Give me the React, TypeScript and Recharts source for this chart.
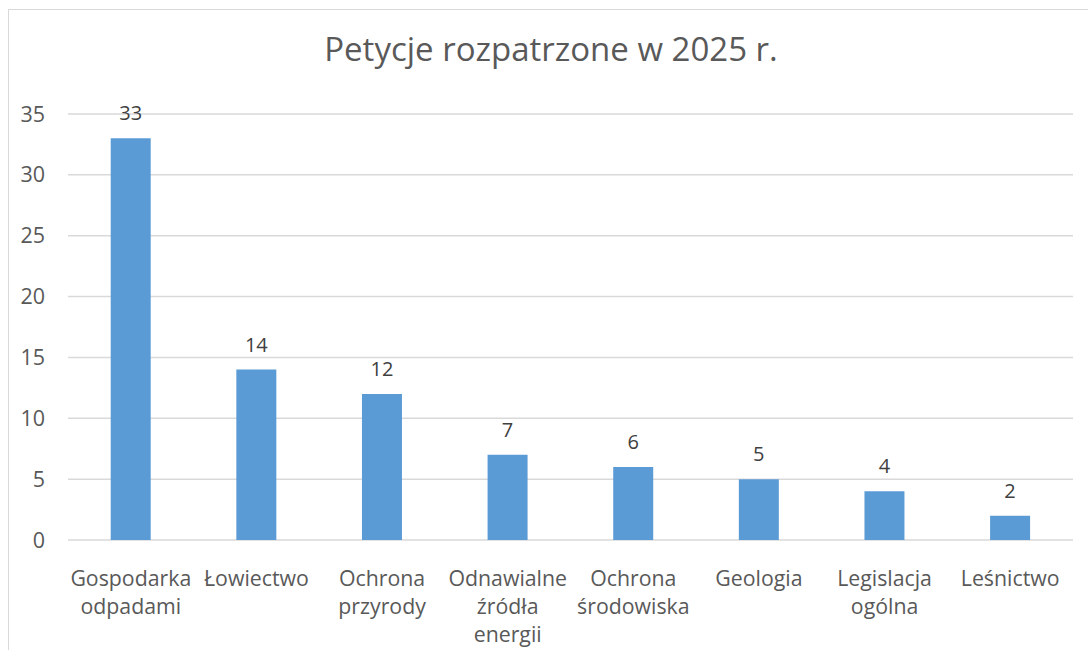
import React from "react";
import { BarChart, Bar, XAxis, YAxis, CartesianGrid, LabelList } from "recharts";

const categories = [
  "Gospodarka odpadami",
  "Łowiectwo",
  "Ochrona przyrody",
  "Odnawialne źródła energii",
  "Ochrona środowiska",
  "Geologia",
  "Legislacja ogólna",
  "Leśnictwo",
];
const values = [33, 14, 12, 7, 6, 5, 4, 2];
const yTicks = [0, 5, 10, 15, 20, 25, 30, 35];
const title = "Petycje rozpatrzone w 2025 r.";

const data = categories.map((c, i) => ({ name: c, value: values[i] }));

const FONT = "'Open Sans', sans-serif";

const XTick = (props: any) => {
  const { x, y, payload } = props;
  const lines = String(payload.value).split(" ");
  return (
    <g transform={`translate(${x},${y})`}>
      {lines.map((l: string, i: number) => (
        <text
          key={i}
          x={0}
          y={0}
          dy={37.5 + i * 28}
          textAnchor="middle"
          fill="#595959"
          fontSize={21.3}
          fontFamily={FONT}
        >
          {l}
        </text>
      ))}
    </g>
  );
};

export default function App() {
  return (
    <div
      style={{
        position: "absolute",
        left: 8,
        top: 9,
        width: 1080,
        height: 641,
        borderLeft: "1.5px solid #d9d9d9",
        borderTop: "1.5px solid #d9d9d9",
        background: "#fff",
        overflow: "hidden",
      }}
    >
      <BarChart
        width={1079}
        height={640}
        data={data}
        margin={{ top: 104, right: 15, bottom: 0, left: 0 }}
        barCategoryGap="34%"
      >
        <text
          x={542}
          y={51}
          textAnchor="middle"
          fill="#595959"
          fontSize={33}
          fontFamily={FONT}
        >
          {title}
        </text>
        <CartesianGrid vertical={false} stroke="#d9d9d9" strokeWidth={1.5} />
        <XAxis
          dataKey="name"
          axisLine={false}
          tickLine={false}
          height={110}
          interval={0}
          tick={<XTick />}
        />
        <YAxis
          width={59}
          domain={[0, 35]}
          ticks={yTicks}
          axisLine={false}
          tickLine={false}
          tickMargin={17}
          tick={{ fill: "#595959", fontSize: 21.5, fontFamily: FONT }}
        />
        <Bar dataKey="value" fill="#5B9BD5" isAnimationActive={false}>
          <LabelList
            dataKey="value"
            position="top"
            offset={18}
            fill="#404040"
            fontSize={20}
            fontFamily={FONT}
          />
        </Bar>
      </BarChart>
    </div>
  );
}
